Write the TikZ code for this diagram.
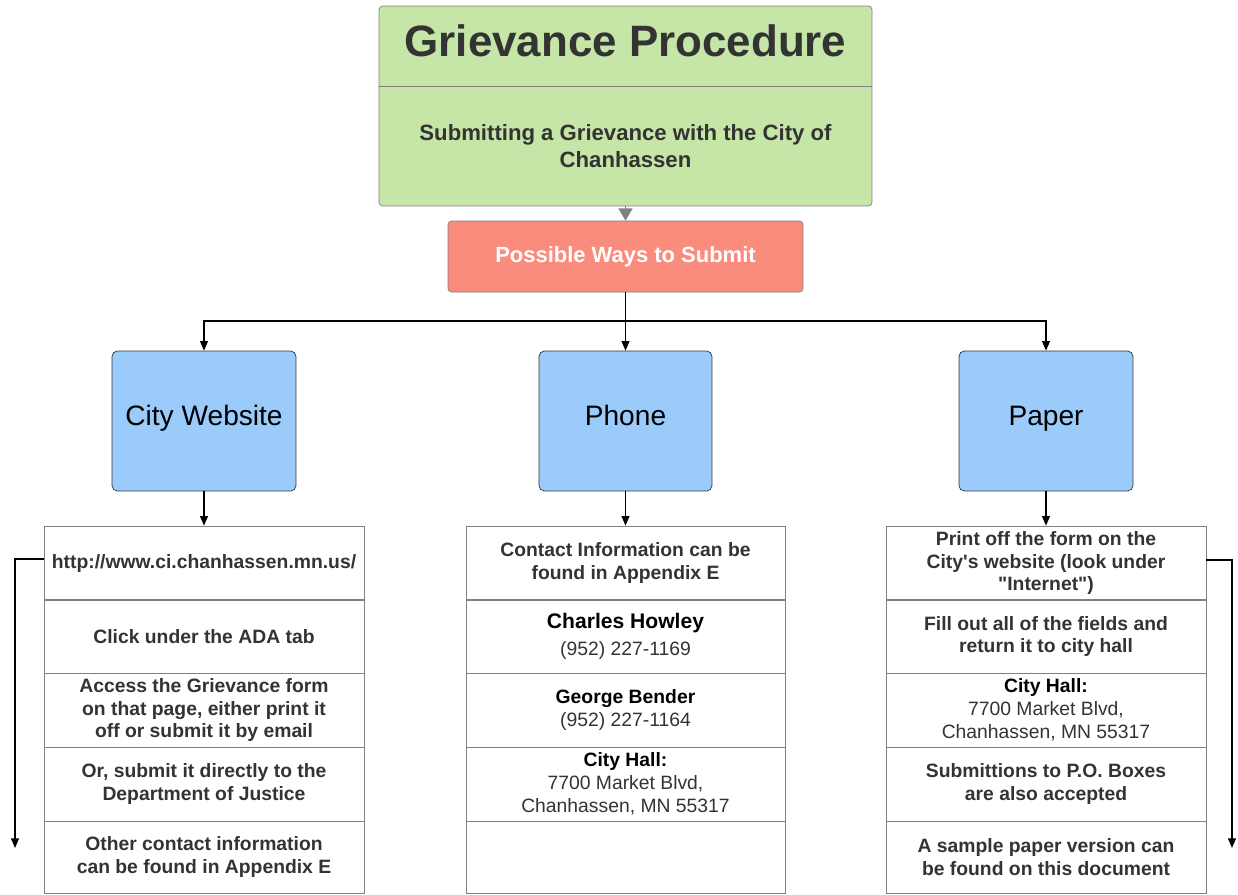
\documentclass[tikz,border=0pt]{standalone}
\usepackage{fontspec}
\setmainfont{Liberation Sans}[Ligatures=TeXOff]
\usetikzlibrary{arrows.meta}
\definecolor{headgreen}{RGB}{197,230,166}
\definecolor{waysred}{RGB}{249,140,125}
\definecolor{wayblue}{RGB}{155,203,250}
\definecolor{inkgrey}{RGB}{51,51,51}

\begin{document}
\begin{tikzpicture}[x=0.02cm,y=-0.02cm]
	\useasboundingbox (0,0) rectangle (1238,894);
	\tikzstyle{head}=[minimum width=9.86cm,inner sep=0pt,text=inkgrey,font=\bfseries,align=center]
	\tikzstyle{ways}=[draw=gray,fill=waysred,rounded corners=2pt,minimum width=7.1cm,minimum height=1.42cm,text=white,font=\fontsize{12.5}{15}\selectfont\bfseries]
	\tikzstyle{way}=[draw=inkgrey,fill=wayblue,rounded corners=3pt,minimum height=2.8cm,text height=0.75em,text depth=0.21em,font=\fontsize{16}{19}\selectfont]
	\tikzstyle{cell}=[draw=gray,minimum width=6.4cm,minimum height=1.48cm,inner sep=0pt,align=center,text=inkgrey,font=\fontsize{11}{13}\selectfont\bfseries]
	\tikzstyle{arr}=[-{Triangle[length=5.5pt,width=4.5pt]},line width=0.8pt]
	% title
	\node[draw=gray,fill=headgreen,rounded corners=2pt,minimum width=9.86cm,minimum height=4cm](box) at (625.5,106) {};
	\node[head,minimum height=1.6cm](title) at (625.5,46) {};
	\node[head,font=\fontsize{25}{30}\selectfont\bfseries](titletext) at (625.5,41) {Grievance Procedure};
	\draw[gray] (title.south west) -- (title.south east);
	\node[head,minimum height=2.4cm,font=\fontsize{12.6}{15.3}\selectfont\bfseries](sub) at (625.5,146) {Submitting a Grievance with the City of\\Chanhassen};
	\node[ways](ways) at (625.5,256.5) {Possible Ways to Submit};
	\draw[-{Triangle[length=7pt,width=8pt]},gray,line width=0.8pt] (box.south) -- (ways.north);
	% three ways
	\node[way,minimum width=3.68cm](web) at (204,421) {City Website};
	\node[way,minimum width=3.46cm](phone) at (625.5,421) {Phone};
	\node[way,minimum width=3.48cm](paper) at (1046,421) {Paper};
	\coordinate (split) at (625.5,321);
	\draw[line width=0.8pt] (ways.south) -- (split);
	\draw[arr] (split) -| (web.north);
	\draw[arr] (split) -- (phone.north);
	\draw[arr] (split) -| (paper.north);
	% website column
	\node[cell](l1) at (204,563) {http://www.ci.chanhassen.mn.us/};
	\node[cell](l2) at (204,636.5) {Click under the ADA tab};
	\node[cell](l3) at (204,710) {Access the Grievance form\\on that page, either print it\\off or submit it by email};
	\node[cell](l4) at (204,784) {Or, submit it directly to the\\Department of Justice};
	\node[cell,minimum height=1.44cm](l5) at (204,857) {Other contact information\\can be found in Appendix E};
	% phone column
	\node[cell,minimum width=6.38cm](m1) at (625.5,563) {Contact Information can be\\found in Appendix E};
	\node[cell,minimum width=6.38cm,font=\fontsize{11}{15}\selectfont](m2) at (625.5,636.5) {{\fontsize{12}{15}\selectfont\bfseries\color{black}Charles Howley}\\(952) 227-1169};
	\node[cell,minimum width=6.38cm,font=\fontsize{11}{13.5}\selectfont](m3) at (625.5,710) {{\bfseries\color{black}George Bender}\\(952) 227-1164};
	\node[cell,minimum width=6.38cm,font=\fontsize{11}{13}\selectfont](m4) at (625.5,784) {{\bfseries\color{black}City Hall:}\\7700 Market Blvd,\\Chanhassen, MN 55317};
	\node[cell,minimum width=6.38cm,minimum height=1.44cm](m5) at (625.5,857) {};
	% paper column
	\node[cell](r1) at (1046,563) {Print off the form on the\\City's website (look under\\"Internet")};
	\node[cell](r2) at (1046,636.5) {Fill out all of the fields and\\return it to city hall};
	\node[cell,font=\fontsize{11}{13}\selectfont](r3) at (1046,710) {{\bfseries\color{black}City Hall:}\\7700 Market Blvd,\\Chanhassen, MN 55317};
	\node[cell](r4) at (1046,784) {Submittions to P.O. Boxes\\are also accepted};
	\node[cell,minimum height=1.44cm](r5) at (1046,857) {A sample paper version can\\be found on this document};
	% into the columns
	\draw[arr] (web.south) -- (l1.north);
	\draw[arr] (phone.south) -- (m1.north);
	\draw[arr] (paper.south) -- (r1.north);
	\coordinate (lout) at (15,848);
	\coordinate (rout) at (1232,848);
	\draw[arr] ([yshift=0.08cm]l1.west) -| (lout);
	\draw[arr] ([yshift=0.06cm]r1.east) -| (rout);
\end{tikzpicture}
\end{document}
